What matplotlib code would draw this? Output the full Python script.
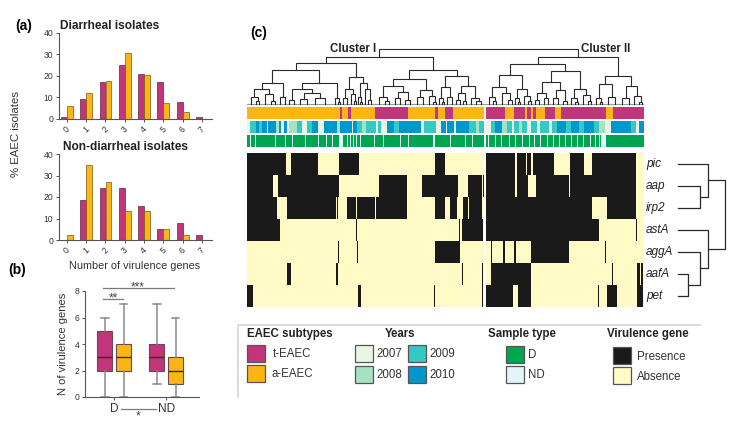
import matplotlib
matplotlib.use('Agg')
import matplotlib.pyplot as plt
from matplotlib.patches import Rectangle
import numpy as np

plt.rcParams['font.family'] = ['Liberation Sans', 'DejaVu Sans']

# ---------------- data ----------------
n_genes = [0, 1, 2, 3, 4, 5, 6, 7]
diar_t = [1, 9.5, 17, 25, 21, 17, 8, 0.8]
diar_a = [6, 12.3, 17.5, 30.5, 20.3, 7.5, 3.3, 0]
nondiar_t = [0, 18.7, 24, 24, 16, 5, 8, 2.5]
nondiar_a = [2.5, 35, 27, 13.3, 13.3, 5, 2.5, 0]

box_groups = ['D', 'ND']
box_t = [dict(whislo=0, q1=2, med=3, q3=5, whishi=6), dict(whislo=1, q1=2, med=3, q3=4, whishi=7)]
box_a = [dict(whislo=0, q1=2, med=3, q3=4, whishi=7), dict(whislo=0, q1=1, med=2, q3=3, whishi=6)]

genes = ['pic', 'aap', 'irp2', 'astA', 'aggA', 'aafA', 'pet']
# isolate axis 0..397 (heatmap columns); cluster I 0-237, cluster II 239-397
clusters = [(0, 237), (239, 397)]
presence = {
    'pic': [(0, 39), (44, 71), (92, 112), (188, 198), (239, 268), (270, 279), (280, 284), (286, 307), (323, 337), (345, 389)],
    'aap': [(0, 26), (31, 92), (132, 160), (175, 211), (221, 235), (236, 237), (239, 268), (270, 281), (289, 321.5), (322.5, 389)],
    'irp2': [(0, 30), (40, 89), (90, 91), (100, 109), (110, 128), (129, 160), (188, 198), (203, 210), (216, 221), (222, 235), (239, 345), (360, 389)],
    'astA': [(0, 33), (109, 110), (212, 213), (215, 236), (239, 352), (389, 390)],
    'aggA': [(91, 92), (110, 111), (188, 213), (244, 245), (256, 258), (267, 269), (284, 322), (358, 359)],
    'aafA': [(40, 44), (89, 91), (215, 216), (235, 236), (244, 284), (365, 366), (390, 393), (394, 396)],
    'pet': [(0, 6), (111, 114), (187, 188), (235, 236), (239, 266), (271, 284), (351, 352), (360, 370), (390, 396)],
}

subtype_runs = [(0, 93, 'a'), (93, 95, 't'), (95, 101, 'a'), (101, 104, 't'), (104, 128, 'a'), (128, 161, 't'),
                (161, 188, 'a'), (188, 191, 't'), (191, 198, 'a'), (198, 206, 't'), (206, 237, 'a'),
                (239, 258, 't'), (258, 267, 'a'), (267, 278, 't'), (278, 280, 'a'), (280, 284, 't'),
                (284, 286, 'a'), (286, 289, 't'), (289, 298, 'a'), (298, 308, 't'), (308, 314, 'a'),
                (314, 359, 't'), (359, 366, 'a'), (366, 397, 't')]

year_runs = [(0, 3, 2007), (3, 9, 2009), (9, 12, 2010), (12, 15, 2009), (15, 20, 2010), (20, 21, 2007),
             (21, 29, 2010), (29, 32, 2008), (32, 34, 2010), (34, 37, 2007), (37, 40, 2010), (40, 42, 2007),
             (42, 50, 2008), (50, 55, 2009), (55, 60, 2007), (60, 65, 2009), (65, 71, 2010), (71, 77, 2007),
             (77, 90, 2010), (90, 93, 2008), (93, 105, 2010), (105, 106, 2007), (106, 110, 2010),
             (110, 115, 2009), (115, 119, 2008), (119, 129, 2009), (129, 131, 2007), (131, 134, 2009),
             (134, 140, 2007), (140, 147, 2010), (147, 152, 2009), (152, 174, 2010), (174, 177, 2007),
             (177, 189, 2009), (189, 194, 2007), (194, 199, 2010), (199, 200, 2007), (200, 207, 2010),
             (207, 209, 2007), (209, 222, 2010), (222, 229, 2009), (229, 232, 2008), (232, 237, 2009),
             (239, 244, 2007), (244, 248, 2009), (248, 255, 2010), (255, 260, 2008), (260, 265, 2009),
             (265, 267, 2007), (267, 272, 2009), (272, 275, 2008), (275, 280, 2009), (280, 284, 2007),
             (284, 290, 2009), (290, 293, 2007), (293, 302, 2009), (302, 305, 2007), (305, 310, 2009),
             (310, 319, 2010), (319, 324, 2009), (324, 332, 2010), (332, 337, 2009), (337, 347, 2010),
             (347, 352, 2009), (352, 358, 2008), (358, 364, 2007), (364, 384, 2010), (384, 389, 2009),
             (389, 392, 2007), (392, 397, 2010)]

nd_samples = [(3, 4), (8, 9), (28, 29), (38, 39), (45, 46), (58, 59), (71, 72), (79, 80), (85, 86), (92, 96),
              (100, 101), (103, 104), (106, 107), (109, 110), (113, 114), (127, 128), (136, 137), (153, 154),
              (161, 162), (186, 188), (203, 204), (218, 219), (225, 226),
              (241, 242), (248, 249), (254, 255), (262, 263), (268, 269), (275, 276), (282, 283), (287, 288),
              (293, 294), (300, 301), (306, 307), (312, 313), (318, 319), (324, 325), (330, 331), (336, 337),
              (343, 344), (348, 349), (352, 353), (354, 359)]


def N(h, l, r):
    return (h, l, r)


cluster_I = N(8.5,
              N(7.5,
                N(6.2,
                  N(3.8, N(2.7, N(1.2, 4, N(0.5, 9, 12)), N(1.8, 18, N(0.6, 24, 28))), N(1.3, 33, 38)),
                  N(3.8, N(2.7, N(0.8, 42, 47), N(2.0, N(0.9, 53, 60), N(1.1, 68, 78))), N(1.0, 88, N(0.4, 91, 93)))),
                N(4.9,
                  N(2.7, N(1.0, 96, 100), N(1.8, 104, N(0.5, 107, 109))),
                  N(3.8, N(1.2, 111, N(0.4, 113, 115)), N(2.7, 118, N(0.8, 121, 124))))),
              N(6.2,
                N(4.5, N(3.2, N(1.3, 132, N(0.6, 138, 142)), N(2.2, N(1.0, 148, 153), N(0.8, 158, 163))),
                  N(2.5, N(1.2, 170, 176), N(1.5, 182, N(0.4, 186, 189)))),
                N(5.0, N(3.0, N(1.0, 192, N(0.3, 195, 197)), N(1.2, 200, 205)),
                  N(3.2, N(2.0, N(0.7, 209, 213), N(0.5, 216, 219)), N(1.1, 224, N(0.6, 229, 234))))))
cluster_II = N(8.5,
               N(7.3,
                 N(5.2, N(3.0, N(1.3, 242, N(0.5, 246, 249)), N(2.0, 255, N(0.8, 261, 265))),
                   N(2.8, N(1.0, 268, N(0.3, 271, 273)), N(1.4, 277, N(0.5, 281, 284)))),
                 N(6.0, N(4.0, N(2.0, N(0.7, 288, 292), N(1.0, 297, 301)), N(2.5, N(1.1, 306, 311), N(0.6, 316, 320))),
                   N(2.7, N(1.0, 324, N(0.4, 328, 331)), N(1.6, 336, N(0.5, 341, 344))))),
               N(5.0, N(3.6, N(1.0, 349, N(0.3, 353, 355)), N(1.3, 361, 368)),
                 N(3.2, N(1.0, 375, 382), N(1.5, 387, N(0.4, 392, 395)))))
col_tree = N(10, cluster_I, cluster_II)
row_tree = N(47, N(30, 0, N(22, 1, 2)), N(30, 3, N(22, 4, N(10, 5, 6))))

subtype_labels = ['t-EAEC', 'a-EAEC']
year_labels = [2007, 2008, 2009, 2010]
sample_labels = ['D', 'ND']
vir_labels = ['Presence', 'Absence']

# ---------------- styles ----------------
T_COL = '#C2357B'
A_COL = '#FDB515'
YEAR_COL = {2007: '#EAF6E4', 2008: '#A6E2C2', 2009: '#36C8C2', 2010: '#0098CC'}
D_COL = '#00A551'
ND_COL = '#E4F5F9'
PRES_COL = '#1A1A1A'
ABS_COL = '#FFFAC6'
AX_COL = '#555555'

W, H = 734, 426
fig = plt.figure(figsize=(W / 100, H / 100), dpi=100)


def fax(x0, y0, x1, y1):
    return fig.add_axes([x0 / W, 1 - y1 / H, (x1 - x0) / W, (y1 - y0) / H])


def style(ax):
    for s in ['top', 'right']:
        ax.spines[s].set_visible(False)
    for s in ['left', 'bottom']:
        ax.spines[s].set_color(AX_COL)
        ax.spines[s].set_linewidth(0.8)
    ax.tick_params(colors=AX_COL, labelcolor='#333333', length=2.5, width=0.7, labelsize=6.2, pad=1.5)


# ---------------- panel a ----------------
for (y0, y1), t, a in [((33, 119), diar_t, diar_a), ((154, 240), nondiar_t, nondiar_a)]:
    ax = fax(59, y0, 212, y1)
    x = np.arange(len(n_genes))
    ax.bar(x - 0.155, t, 0.3, color=T_COL, edgecolor='#5a2a40', linewidth=0.5)
    ax.bar(x + 0.155, a, 0.3, color=A_COL, edgecolor='#7a5a10', linewidth=0.5)
    ax.set_xlim(-0.41, 7.52)
    ax.set_ylim(0, 40)
    ax.set_yticks([0, 10, 20, 30, 40])
    ax.set_xticks(x)
    ax.set_xticklabels([str(v) for v in n_genes], rotation=45, ha='center', va='top')
    style(ax)

# ---------------- panel b ----------------
axb = fax(85, 291, 199, 397)
for i, (st, col) in enumerate([(box_t, T_COL), (box_a, A_COL)]):
    pos = [1 - 0.18 + 0.36 * i, 2 - 0.18 + 0.36 * i]
    axb.bxp([dict(s, fliers=[]) for s in st], positions=pos, widths=0.29, patch_artist=True,
            showfliers=False,
            boxprops=dict(facecolor=col, edgecolor='#6a4a50', linewidth=0.8),
            medianprops=dict(color='#3a2a2a', linewidth=1.0),
            whiskerprops=dict(color='#8a8a8a', linewidth=1.1),
            capprops=dict(color='#8a8a8a', linewidth=1.1), capwidths=0.15)
axb.set_xlim(0.44, 2.63)
axb.set_ylim(0, 8)
axb.set_yticks([0, 2, 4, 6, 8])
axb.set_xticks([1, 2])
axb.set_xticklabels(box_groups)
style(axb)
axb.tick_params(axis='x', labelsize=8.5, pad=2)

# ---------------- panel c ----------------
axc = fax(247, 40, 644, 307)
axc.set_xlim(0, 397)
axc.set_ylim(7, -5.136)
axc.axis('off')

# heatmap
for i, g in enumerate(genes):
    axc.broken_barh([(s, e - s) for s, e in clusters], (i, 1), facecolors=ABS_COL, linewidth=0)
    axc.broken_barh([(s, e - s) for s, e in presence[g]], (i, 1), facecolors=PRES_COL, linewidth=0)

# annotation bars
axc.broken_barh([(s, e - s) for s, e, _ in subtype_runs], (-2.09, 0.545),
                facecolors=[T_COL if c == 't' else A_COL for _, _, c in subtype_runs], linewidth=0)
axc.broken_barh([(s, e - s) for s, e, _ in year_runs], (-1.455, 0.545),
                facecolors=[YEAR_COL[y] for _, _, y in year_runs], linewidth=0)
axc.broken_barh([(s, e - s) for s, e in clusters], (-0.818, 0.545), facecolors=D_COL, linewidth=0)
axc.broken_barh([(s, e - s) for s, e in nd_samples], (-0.818, 0.545), facecolors=ND_COL, linewidth=0)

# column dendrogram
BASE = -2.227


def ymap_col(h):
    return BASE - h * 0.25


def draw_col(node):
    if not isinstance(node, tuple):
        return float(node), 0.0
    h, l, r = node
    xl, hl = draw_col(l)
    xr, hr = draw_col(r)
    axc.plot([xl, xl, xr, xr], [ymap_col(hl), ymap_col(h), ymap_col(h), ymap_col(hr)],
             color='#2a2a2a', lw=0.8, solid_joinstyle='miter', clip_on=False)
    return (xl + xr) / 2, h


axc.plot([0, 397], [BASE, BASE], color='#9a9a9a', lw=0.8)
draw_col(col_tree)
xI = (draw_col.__defaults__ or None)

# cluster positions for labels
def node_x(node):
    if not isinstance(node, tuple):
        return float(node)
    return (node_x(node[1]) + node_x(node[2])) / 2


xI = node_x(cluster_I)
xII = node_x(cluster_II)
axc.text(xI - 3, ymap_col(10), 'Cluster I', ha='right', va='center', fontsize=8.3, fontweight='bold',
         color='#222222')
axc.text(xII + 3, ymap_col(10), 'Cluster II', ha='left', va='center', fontsize=8.3, fontweight='bold',
         color='#222222')

# gene labels
for i, g in enumerate(genes):
    axc.text(399, i + 0.5, g, ha='left', va='center', fontsize=8.5, style='italic', color='#222222',
             clip_on=False)

# row dendrogram
RX0 = 431


def draw_row(node):
    if not isinstance(node, tuple):
        return node + 0.5, 0.0
    h, l, r = node
    yl, hl = draw_row(l)
    yr, hr = draw_row(r)
    axc.plot([RX0 + hl, RX0 + h, RX0 + h, RX0 + hr], [yl, yl, yr, yr], color='#2a2a2a', lw=0.9,
             clip_on=False)
    return (yl + yr) / 2, h


draw_row(row_tree)

# ---------------- overlay: labels & legend ----------------
ov = fig.add_axes([0, 0, 1, 1])
ov.set_xlim(0, W)
ov.set_ylim(H, 0)
ov.axis('off')

ov.text(15, 26, '(a)', fontsize=10, fontweight='bold', ha='left', va='center')
ov.text(60, 26, 'Diarrheal isolates', fontsize=8.6, fontweight='bold', ha='left', va='center', color='#222')
ov.text(63, 147, 'Non-diarrheal isolates', fontsize=8.6, fontweight='bold', ha='left', va='center', color='#222')
ov.text(16, 134, '% EAEC isolates', fontsize=8.2, rotation=90, ha='center', va='center', color='#333')
ov.text(135, 266, 'Number of virulence genes', fontsize=7.8, ha='center', va='center', color='#333')
ov.text(8, 270, '(b)', fontsize=10, fontweight='bold', ha='left', va='center')
ov.text(63, 344, 'N of virulence genes', fontsize=8.0, rotation=90, ha='center', va='center', color='#333')
ov.text(250, 33, '(c)', fontsize=10, fontweight='bold', ha='left', va='center')

# significance
sig_col = '#7a7a7a'
ov.plot([103, 174], [288, 288], color=sig_col, lw=0.9)
ov.text(138, 287, '***', fontsize=8.5, ha='center', va='center', color='#444')
ov.plot([103, 123], [299, 299], color=sig_col, lw=0.9)
ov.text(113, 298, '**', fontsize=8.5, ha='center', va='center', color='#444')
ov.plot([121, 156], [409, 409], color=sig_col, lw=0.9)
ov.text(138, 416, '*', fontsize=8.5, ha='center', va='center', color='#444')

# legend frame lines
ov.plot([240, 700], [325, 325], color='#d4d4d4', lw=1.2)
ov.plot([238, 238], [325, 397], color='#d4d4d4', lw=1.2)


def lpatch(x0, y0, fc):
    ov.add_patch(Rectangle((x0, y0), 18, 17, facecolor=fc, edgecolor='#555555', lw=0.9))


TS = 8.3
ov.text(247, 334, 'EAEC subtypes', fontsize=TS, fontweight='bold', ha='left', va='center', color='#222')
for k, (lab, col) in enumerate(zip(subtype_labels, [T_COL, A_COL])):
    lpatch(247, 345 + 20 * k, col)
    ov.text(292, 354 + 20 * k, lab, fontsize=TS, ha='center', va='center', color='#333')

ov.text(400, 334, 'Years', fontsize=TS, fontweight='bold', ha='center', va='center', color='#222')
for k, yv in enumerate(year_labels):
    col_i, row_i = k // 2, k % 2
    x0 = 355 + 53 * col_i
    y0 = 345 + 21 * row_i
    lpatch(x0, y0, YEAR_COL[yv])
    ov.text(x0 + 21, y0 + 9, str(yv), fontsize=TS, ha='left', va='center', color='#333')

ov.text(522, 334, 'Sample type', fontsize=TS, fontweight='bold', ha='center', va='center', color='#222')
for k, (lab, col) in enumerate(zip(sample_labels, [D_COL, ND_COL])):
    lpatch(506, 346 + 20 * k, col)
    ov.text(528, 355 + 20 * k, lab, fontsize=TS, ha='left', va='center', color='#333')

ov.text(648, 334, 'Virulence gene', fontsize=TS, fontweight='bold', ha='center', va='center', color='#222')
for k, (lab, col) in enumerate(zip(vir_labels, [PRES_COL, ABS_COL])):
    lpatch(613, 347 + 20 * k, col)
    ov.text(637, 357 + 20 * k, lab, fontsize=TS, ha='left', va='center', color='#333')

fig.savefig('out.png', dpi=100)
